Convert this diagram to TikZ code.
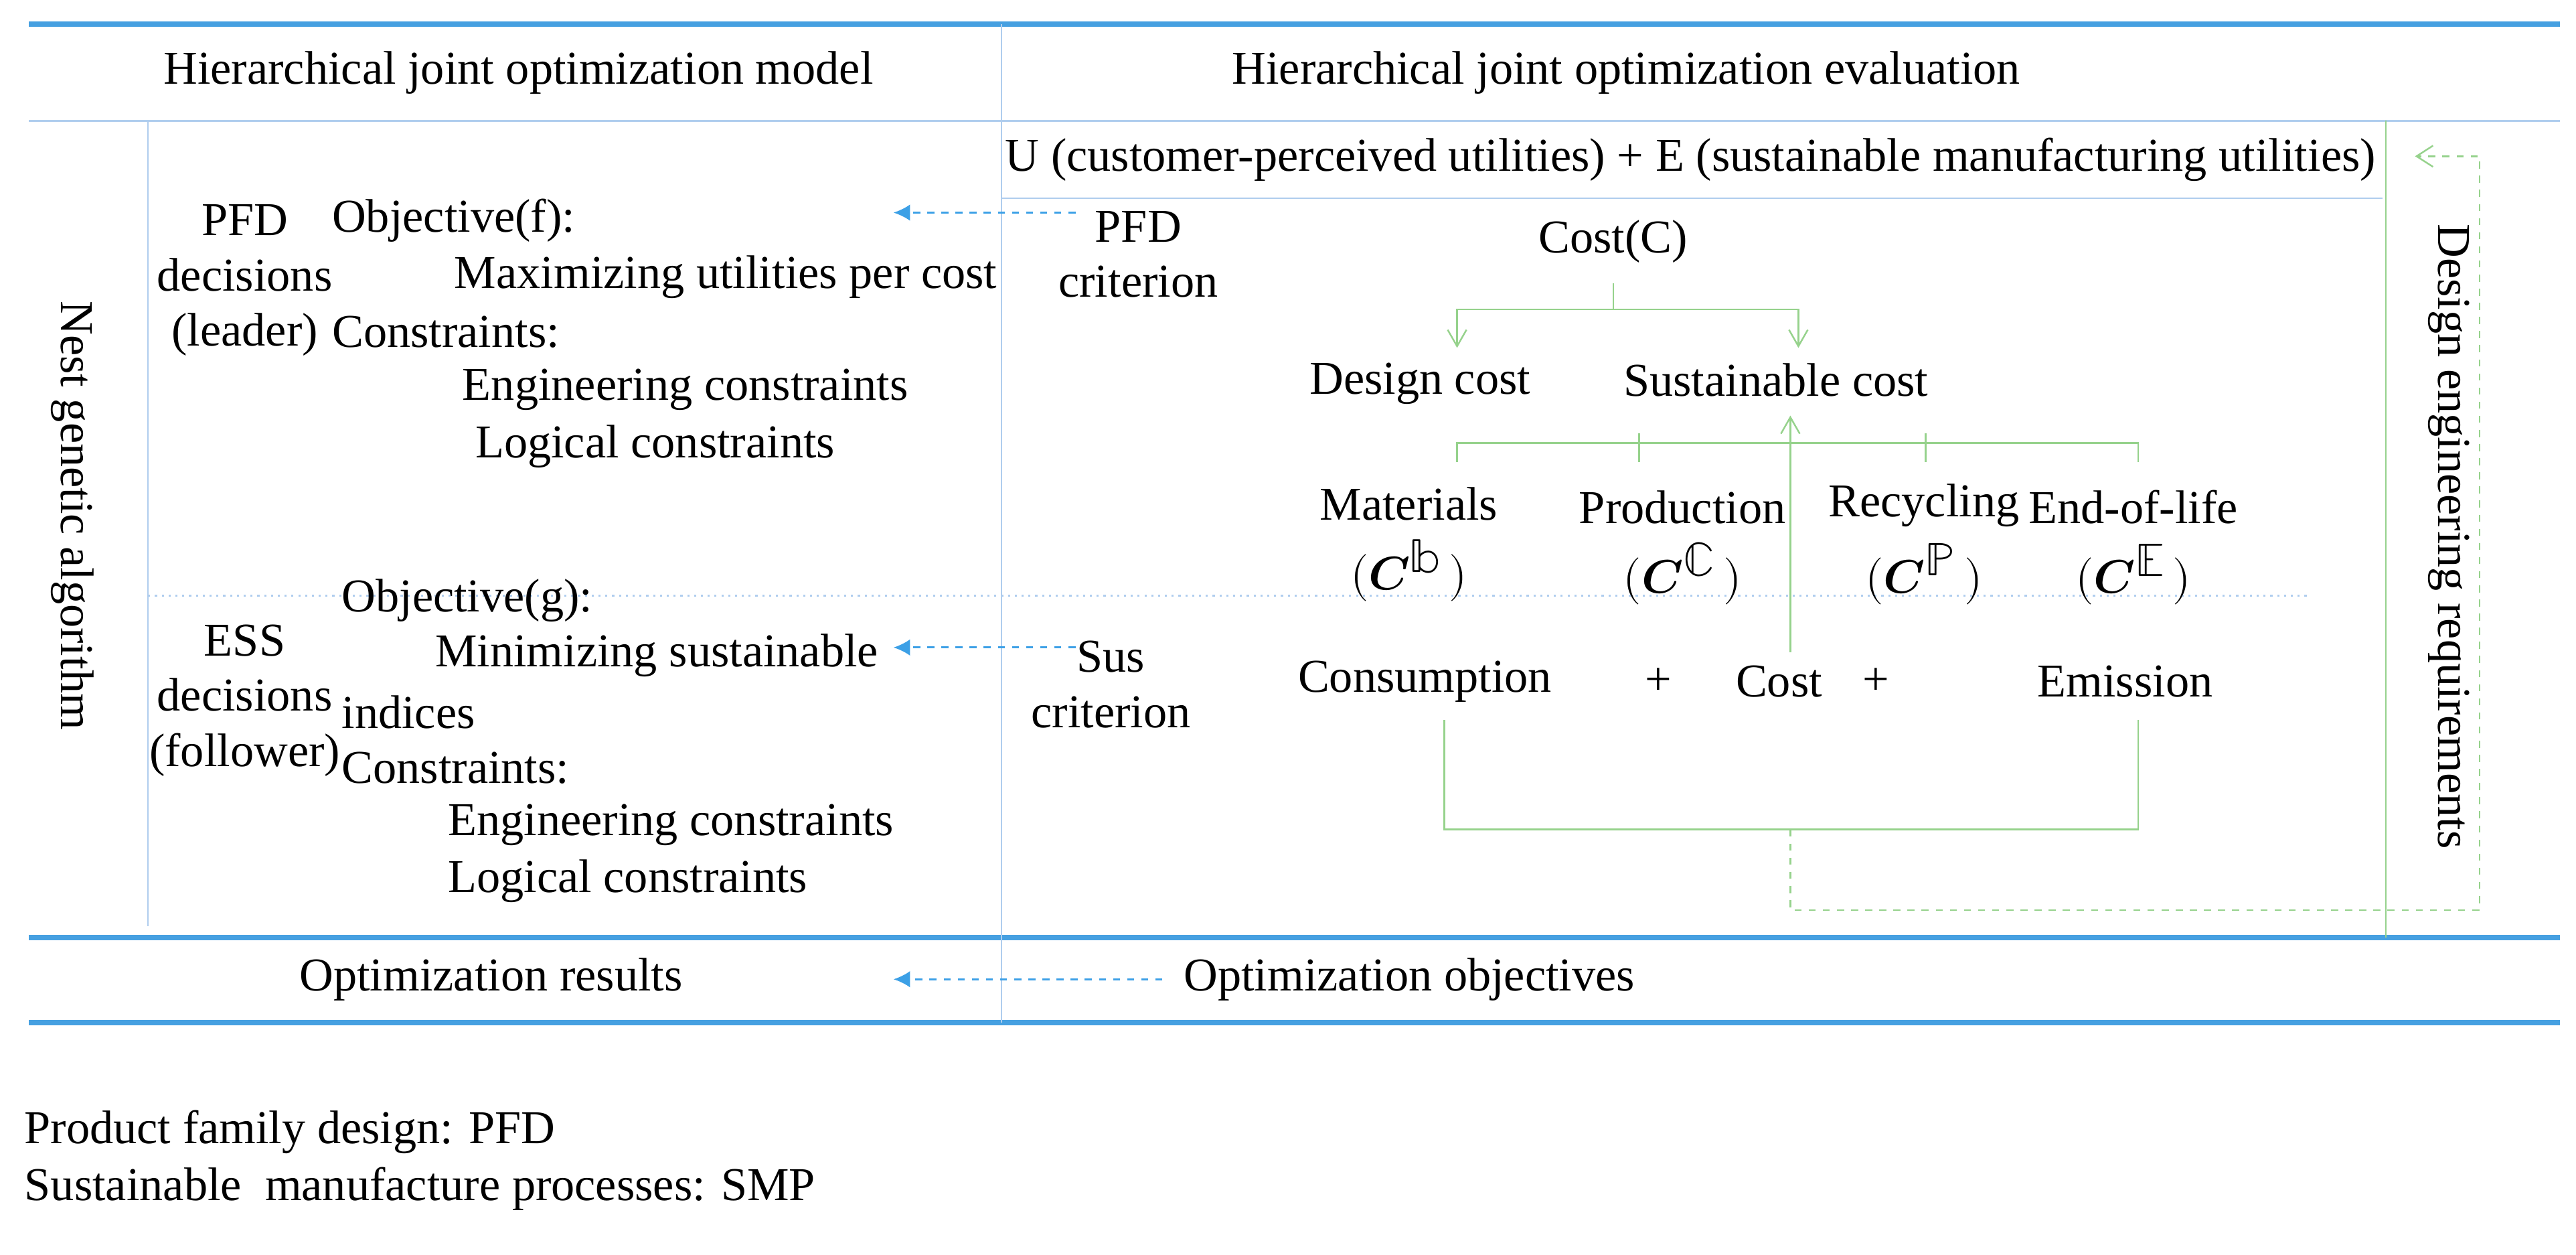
\documentclass[tikz,border=0pt]{standalone}
\usepackage{fontspec}
\usepackage{unicode-math}
\setmainfont{Liberation Serif}
\setmathfont{Latin Modern Math}
\usetikzlibrary{arrows.meta}
\definecolor{thickb}{RGB}{70,160,225}
\definecolor{thinb}{RGB}{175,205,238}
\definecolor{grn}{RGB}{150,210,140}
\definecolor{arrb}{RGB}{60,160,230}
\tikzset{
  t/.style={font=\fontsize{20}{23.5}\selectfont, inner sep=0pt, align=center},
  tl/.style={t, anchor=west, align=left},
  thick line/.style={draw=thickb, line width=2.2pt},
  thin line/.style={draw=thinb, line width=0.7pt},
  gl/.style={draw=grn, line width=0.7pt},
  bluearr/.style={draw=arrb, dashed, line width=0.8pt, -{Latex[length=7pt,width=7pt]}},
  gopen/.style={gl, -{Straight Barb[open,length=7pt,width=8pt]}},
}
\newcommand{\cbb}[1]{$(\symbfit{C}^{\textstyle\mathbb{#1}}\,)$}
\begin{document}
\begin{tikzpicture}[x=0.02405cm,y=-0.02405cm]
\useasboundingbox (0,0) rectangle (1600,779);
% frame lines
\draw[thick line] (18,15) -- (1590,15);
\draw[thin line] (18,75) -- (1590,75);
\draw[thick line] (18,582) -- (1590,582);
\draw[thick line] (18,635) -- (1590,635);
\draw[thin line] (622,15) -- (622,635);
\draw[thin line] (92,75) -- (92,575);
\draw[thin line] (622,123) -- (1480,123);
\draw[gl] (1482,75) -- (1482,582);
\draw[thinb, dotted, line width=0.9pt] (92,370) -- (1435,370);
% headers
\node[t] (h1) at (322,45) {Hierarchical joint optimization model};
\node[t] (h2) at (1010,45) {Hierarchical joint optimization evaluation};
\node[t] (ue) at (1050,99) {U (customer-perceived utilities) + E (sustainable manufacturing utilities)};
\node[t, rotate=-90] (nga) at (45,320) {Nest genetic algorithm};
\node[t, rotate=-90] (der) at (1521,333) {Design engineering requirements};
% left column
\node[t] (pfd) at (152,174) {PFD\\decisions\\(leader)};
\node[tl] (of) at (206,137) {Objective(f):};
\node[tl] (mu) at (282,172) {Maximizing utilities per cost};
\node[tl] (c1) at (206,206) {Constraints:};
\node[tl] (e1) at (287,242) {Engineering constraints};
\node[tl] (l1) at (295,277) {Logical constraints};
\node[t] (ess) at (152,435) {ESS\\decisions\\(follower)};
\node[tl] (og) at (212,373) {Objective(g):};
\node[tl] (ms) at (270,407) {Minimizing sustainable};
\node[tl] (ind) at (212,442) {indices};
\node[tl] (c2) at (212,477) {Constraints:};
\node[tl] (e2) at (278,512) {Engineering constraints};
\node[tl] (l2) at (278,547) {Logical constraints};
\node[t] (or) at (305,608) {Optimization results};
% right criteria
\node[t] (pc) at (707,158) {PFD\\criterion};
\node[t] (sc) at (690,425) {Sus\\criterion};
\node[tl] (oo) at (735,608) {Optimization objectives};
\coordinate (pa) at (668,132);
\coordinate (sa) at (668,402);
\coordinate (oa) at (722,608);
\coordinate (pt) at (555,132);
\coordinate (st) at (555,402);
\coordinate (ot) at (555,608);
\draw[bluearr] (pa) -- (pt);
\draw[bluearr] (sa) -- (st);
\draw[bluearr] (oa) -- (ot);
% cost tree
\node[t] (cost) at (1002,150) {Cost(C)};
\node[t] (dc) at (882,238) {Design cost};
\node[t] (susc) at (1103,236) {Sustainable cost};
\draw[gl] (1002,176) -- (1002,192) coordinate (cj);
\draw[gopen] (cj) -| (905,216);
\draw[gopen] (cj) -| (1117,216);
\node[t] (mat) at (875,338) {Materials\\[6pt]\cbb{b}};
\node[t] (pro) at (1045,340) {Production\\[6pt]\cbb{C}};
\node[t] (rec) at (1195,338) {Recycling\\[6pt]\cbb{P}};
\node[t] (eol) at (1325,340) {End-of-life\\[6pt]\cbb{E}};
\draw[gl] (905,287) -- (905,275) -- (1328,275) -- (1328,287);
\draw[gl] (1018,287) -- (1018,269);
\draw[gl] (1196,287) -- (1196,269);
\node[t] (cons) at (885,423) {Consumption};
\node[t] (p1) at (1030,423) {+};
\node[t] (cst) at (1105,423) {Cost};
\node[t] (p2) at (1165,423) {+};
\node[t] (emi) at (1320,423) {Emission};
\draw[gl, -{Straight Barb[open,length=7pt,width=8pt]}] (1112,405) -- (1112,258);
\draw[gl] (897,447) -- (897,515) -- (1328,515) -- (1328,447);
\coordinate (bm) at (1112,515);
\coordinate (dr) at (1540,565);
\draw[gl, dashed, -{Straight Barb[length=7pt,width=9pt]}] (bm) |- (dr) |- (1500,97);
% legend
\node[tl] (lg1) at (15,703) {Product family design: PFD};
\node[tl] (lg2) at (15,738) {Sustainable\ \ manufacture processes: SMP};
\end{tikzpicture}
\end{document}
